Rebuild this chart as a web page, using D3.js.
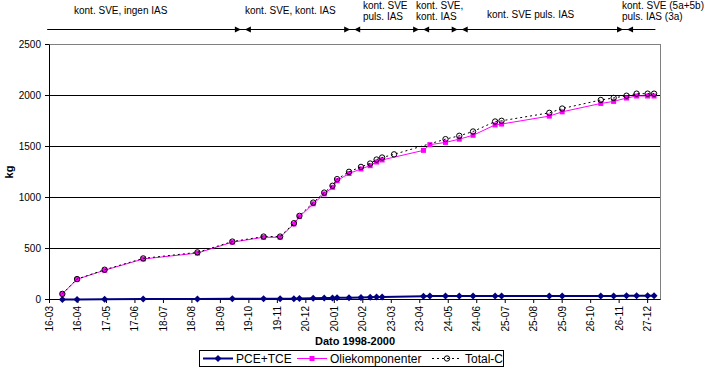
<!DOCTYPE html>
<html>
<head>
<meta charset="utf-8">
<script src="https://cdn.jsdelivr.net/npm/d3@7"></script>
<style>
  body { margin: 0; background: #fff; }
  svg { font-family: "Liberation Sans", Arial, sans-serif; display: block; }
</style>
</head>
<body>
<div id="graf"></div>
<script>
// Data
datoer = ['30-03-1998', '15-04-1998', '15-05-1998', '26-06-1998', '24-08-1998', '01-10-1998',
          '04-11-1998', '22-11-1998', '07-12-1998', '13-12-1998', '28-12-1998', '09-01-1999',
          '18-01-1999', '23-01-1999', '05-02-1999', '18-02-1999', '28-02-1999', '07-03-1999',
          '13-03-1999', '26-03-1999', '27-04-1999', '04-05-1999', '21-05-1999', '05-06-1999',
          '20-06-1999', '14-07-1999', '21-07-1999', '11-09-1999', '25-09-1999', '06-11-1999',
          '20-11-1999', '04-12-1999', '15-12-1999', '27-12-1999', '03-01-2000']

pceTce = [0, 0, 3, 5, 6, 7, 7, 8, 8, 9, 12, 14, 15, 16, 18, 20, 22, 24, 25, null,
          33, 34, 35, 35, 35, 35, 35, 35, 35, 35, 35, 36, 36, 36, 36]

olie = [55, 198, 287, 397, 455, 562, 610, 610, 740, 812, 938, 1035, 1100, 1165, 1235, 1280,
        1312, 1348, 1368, null, 1462, 1518, 1540, 1572, 1610, 1712, 1720, 1798, 1840, 1922,
        1942, 1975, 1995, 1995, 1995]

totalC = [55, 200, 292, 403, 462, 568, 617, 617, 748, 820, 950, 1048, 1115, 1180, 1252, 1300,
          1333, 1372, 1392, 1423, null, null, 1572, 1605, 1647, 1745, 1752, 1830, 1872, 1956,
          1976, 1998, 2018, 2018, 2018]

serieNavne = ['PCE+TCE', 'Oliekomponenter', 'Total-C']

tickDatoer = ['16-03-1998', '16-04-1998', '17-05-1998', '17-06-1998', '18-07-1998', '18-08-1998',
              '18-09-1998', '19-10-1998', '19-11-1998', '20-12-1998', '20-01-1999', '20-02-1999',
              '23-03-1999', '23-04-1999', '24-05-1999', '24-06-1999', '25-07-1999', '25-08-1999',
              '25-09-1999', '26-10-1999', '26-11-1999', '27-12-1999']
yTicks = [0, 500, 1000, 1500, 2000, 2500]

// driftsfaser over grafen
faseGraenser = ['14-03-1998', '13-10-1998', '09-02-1999', '25-04-1999', '06-06-1999', '03-12-1999', '05-01-2000']
faseTekst = [['kont. SVE, ingen IAS'], ['kont. SVE, kont. IAS'], ['kont. SVE', 'puls. IAS'],
             ['kont. SVE,', 'kont. IAS'], ['kont. SVE puls. IAS'], ['kont. SVE  (5a+5b)', 'puls. IAS (3a)']]

// I. Opsætning
parse = d3.timeParse('%d-%m-%Y')
fmt = d3.timeFormat('%d-%m')
fontFam = '"Liberation Sans", Arial, sans-serif'

ancho = 708
alto = 369

svg = d3.select('#graf').append('svg')
        .attr('width', ancho)
        .attr('height', alto)

x = d3.scaleTime()
      .domain([parse('16-03-1998'), parse('10-01-2000')])
      .range([49, 660])

y = d3.scaleLinear()
      .domain([0, 2500])
      .range([299, 44])

rows = datoer.map((d, i) => ({ dato: parse(d), v: [pceTce[i], olie[i], totalC[i]] }))

// gitterlinjer
svg.append('g')
   .attr('transform', 'translate(49, 0)')
   .call(d3.axisLeft(y).tickValues(yTicks.slice(1, -1)).tickSize(-611).tickFormat(''))
   .call(g => g.select('.domain').remove())
   .selectAll('line').attr('stroke', '#000')

// ramme
svg.append('rect')
   .attr('x', 49.5).attr('y', 44.5)
   .attr('width', 611).attr('height', 255)
   .attr('fill', 'none')
   .attr('stroke', '#808080')

// y-akse
yAxis = svg.append('g')
           .attr('transform', 'translate(49, 0)')
           .call(d3.axisLeft(y).tickValues(yTicks).tickFormat(d3.format('d'))
                   .tickSize(4).tickSizeOuter(0).tickPadding(4))
yAxis.selectAll('line, path').attr('stroke', '#000')
yAxis.attr('font-family', fontFam)
yAxis.selectAll('text').attr('font-size', '10px').attr('fill', '#000')

// x-akse
xAxis = svg.append('g')
           .attr('transform', 'translate(0, 299)')
           .call(d3.axisBottom(x).tickValues(tickDatoer.map(parse)).tickFormat(fmt).tickSize(4).tickSizeOuter(0))
xAxis.selectAll('line, path').attr('stroke', '#000')
xAxis.attr('font-family', fontFam)
xAxis.selectAll('text')
     .attr('font-size', '10px')
     .attr('fill', '#000')
     .attr('x', -7)
     .attr('y', 0)
     .attr('dy', '0.35em')
     .attr('text-anchor', 'end')
     .attr('transform', 'rotate(-90)')

// akse-titler
svg.append('text')
   .attr('x', 355).attr('y', 345)
   .attr('text-anchor', 'middle')
   .attr('font-size', '11px').attr('font-weight', 'bold')
   .text('Dato 1998-2000')

svg.append('text')
   .attr('transform', 'translate(13, 172) rotate(-90)')
   .attr('text-anchor', 'middle')
   .attr('font-size', '11px').attr('font-weight', 'bold')
   .text('kg')

// serier
stil = [
  { farve: '#000080', bredde: 2, dash: null, marker: 'diamant' },
  { farve: '#ff00ff', bredde: 1, dash: null, marker: 'firkant' },
  { farve: '#000000', bredde: 1, dash: '2,3', marker: 'cirkel' }
]

function tegnMarker(sel, s) {
  if (s.marker == 'diamant') {
    sel.append('path').attr('d', 'M0,-3.5L3.5,0L0,3.5L-3.5,0Z').attr('fill', s.farve)
  } else if (s.marker == 'firkant') {
    sel.append('rect').attr('x', -2.5).attr('y', -2.5).attr('width', 5).attr('height', 5).attr('fill', s.farve)
  } else {
    sel.append('circle').attr('r', 2.7).attr('fill', 'none').attr('stroke', '#000').attr('stroke-width', 1)
  }
}

serieNavne.forEach((navn, k) => {
  s = stil[k]
  pts = rows.filter(r => r.v[k] != null)
  linje = d3.line().x(r => x(r.dato) + 0.5).y(r => y(r.v[k]) + 0.5)
  svg.append('path')
     .datum(pts)
     .attr('d', linje)
     .attr('fill', 'none')
     .attr('stroke', s.farve)
     .attr('stroke-width', s.bredde)
     .attr('stroke-dasharray', s.dash)
  svg.append('g').selectAll('g')
     .data(pts)
     .enter().append('g')
       .attr('transform', r => `translate(${x(r.dato) + 0.5}, ${y(r.v[k]) + 0.5})`)
       .each(function() { tegnMarker(d3.select(this), s) })
})

// faser med pile
faseY = 29.5
grænser = faseGraenser.map(parse)
svg.append('line')
   .attr('x1', x(grænser[0])).attr('x2', x(grænser[grænser.length - 1]))
   .attr('y1', faseY).attr('y2', faseY)
   .attr('stroke', '#000')

grænser.slice(1, -1).forEach(b => {
  bx = x(b)
  svg.append('path')
     .attr('d', `M${bx - 2},${faseY}L${bx - 8},${faseY - 3}L${bx - 8},${faseY + 3}Z`)
     .attr('fill', '#000')
  svg.append('path')
     .attr('d', `M${bx + 2},${faseY}L${bx + 8},${faseY - 3}L${bx + 8},${faseY + 3}Z`)
     .attr('fill', '#000')
})

labelX = [74, 245, 363, 416, 487, 622]
labelY = [14, 14, 9, 9, 18, 9]
faseTekst.forEach((linjer, i) => {
  t = svg.append('text')
         .attr('x', labelX[i]).attr('y', labelY[i])
         .attr('font-size', '10px')
  linjer.forEach((l, j) => {
    t.append('tspan').attr('x', labelX[i]).attr('dy', j == 0 ? 0 : 11).text(l)
  })
})

// legende
leg = svg.append('g')
leg.append('rect')
   .attr('x', 199.5).attr('y', 350.5)
   .attr('width', 304).attr('height', 16)
   .attr('fill', '#fff').attr('stroke', '#000')

legX = [203, 297, 432]
serieNavne.forEach((navn, k) => {
  s = stil[k]
  e = leg.append('g').attr('transform', `translate(${legX[k]}, 358.5)`)
  e.append('line')
   .attr('x1', 0).attr('x2', 30)
   .attr('stroke', s.farve).attr('stroke-width', s.bredde)
   .attr('stroke-dasharray', s.dash)
  tegnMarker(e.append('g').attr('transform', 'translate(15, 0)'), s)
  e.append('text')
   .attr('x', 33).attr('y', 4.5)
   .attr('font-size', '12px')
   .text(navn)
})
</script>
</body>
</html>
